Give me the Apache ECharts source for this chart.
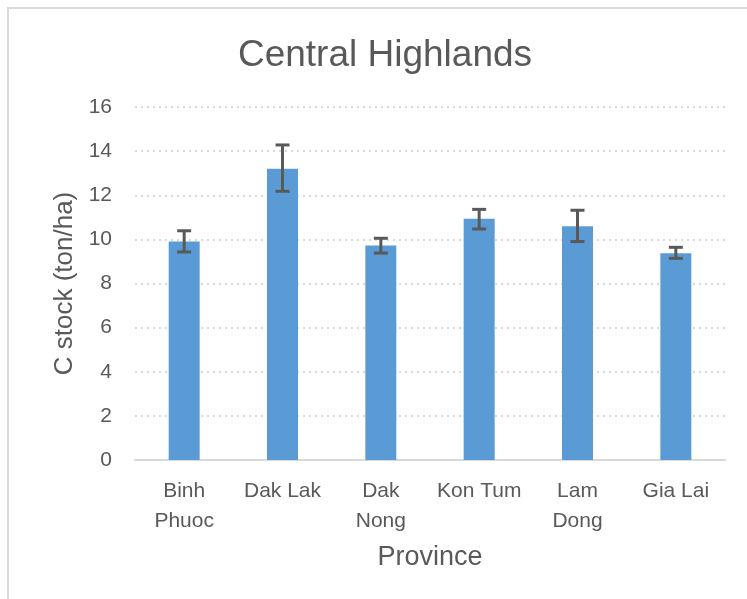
<!DOCTYPE html>
<html>
<head>
<meta charset="utf-8">
<script src="https://cdn.jsdelivr.net/npm/echarts@6/dist/echarts.min.js"></script>
<style>
html,body{margin:0;padding:0;background:#fff;}
#chart{width:747px;height:599px;}
</style>
</head>
<body>
<div id="chart"></div>
<script>
var categories = ['Binh\nPhuoc', 'Dak Lak', 'Dak\nNong', 'Kon Tum', 'Lam\nDong', 'Gia Lai'];
var carbonStock = [9.9, 13.2, 9.72, 10.94, 10.59, 9.37];
var errorLow = [9.43, 12.18, 9.38, 10.47, 9.9, 9.14];
var errorHigh = [10.39, 14.28, 10.05, 11.36, 11.32, 9.64];

var chart = echarts.init(document.getElementById('chart'), null, {renderer: 'canvas'});
var FONT = 'Liberation Sans, Arial, sans-serif';
var TXT = '#595959';

var errData = categories.map(function (c, i) { return [i, errorLow[i], errorHigh[i]]; });

chart.setOption({
  backgroundColor: '#fff',
  animation: false,
  title: {
    text: 'Central Highlands',
    left: 380,
    top: 32,
    textAlign: 'center',
    textStyle: {fontFamily: FONT, fontSize: 37, fontWeight: 'normal', color: TXT}
  },
  graphic: [{
    type: 'rect',
    shape: {x: 8, y: 8, width: 800, height: 700},
    style: {fill: 'none', stroke: '#d9d9d9', lineWidth: 2},
    silent: true,
    z: -10
  }],
  grid: {left: 135, right: 22, top: 107, bottom: 139},
  xAxis: {
    type: 'category',
    data: categories,
    name: 'Province',
    nameLocation: 'middle',
    nameGap: 84,
    nameTextStyle: {fontFamily: FONT, fontSize: 27, color: TXT},
    axisLine: {lineStyle: {color: '#d9d9d9', width: 2}},
    axisTick: {show: false},
    axisLabel: {fontFamily: FONT, fontSize: 21, color: TXT, lineHeight: 30, margin: 16, interval: 0}
  },
  yAxis: {
    type: 'value',
    min: 0, max: 16, interval: 2,
    name: 'C stock (ton/ha)',
    nameLocation: 'middle',
    nameGap: 57,
    nameTextStyle: {fontFamily: FONT, fontSize: 26, color: TXT},
    axisLine: {show: false},
    axisTick: {show: false},
    axisLabel: {fontFamily: FONT, fontSize: 21, color: TXT, margin: 23},
    splitLine: {lineStyle: {color: '#d9d9d9', type: [2, 4], width: 2}}
  },
  series: [{
    type: 'bar',
    data: carbonStock,
    barWidth: 31,
    itemStyle: {color: '#5b9bd5'}
  }, {
    type: 'custom',
    data: errData,
    z: 10,
    renderItem: function (params, api) {
      var x = api.value(0);
      var lo = api.coord([x, api.value(1)]);
      var hi = api.coord([x, api.value(2)]);
      var hw = 7;
      var style = {stroke: '#595959', lineWidth: 3, fill: null};
      return {
        type: 'group',
        children: [
          {type: 'line', shape: {x1: lo[0], y1: lo[1], x2: hi[0], y2: hi[1]}, style: style},
          {type: 'line', shape: {x1: hi[0] - hw, y1: hi[1], x2: hi[0] + hw, y2: hi[1]}, style: style},
          {type: 'line', shape: {x1: lo[0] - hw, y1: lo[1], x2: lo[0] + hw, y2: lo[1]}, style: style}
        ]
      };
    }
  }]
});
</script>
</body>
</html>
